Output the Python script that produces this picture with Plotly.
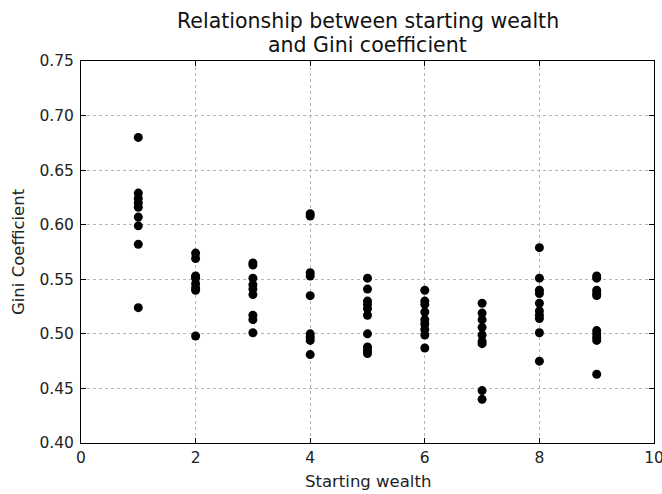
import plotly.graph_objects as go

starting_wealth = [1, 2, 3, 4, 5, 6, 7, 8, 9]
gini_1 = [0.680, 0.629, 0.624, 0.620, 0.616, 0.607, 0.599, 0.582, 0.524]
gini_2 = [0.574, 0.569, 0.553, 0.551, 0.546, 0.542, 0.540, 0.498]
gini_3 = [0.565, 0.563, 0.551, 0.545, 0.541, 0.536, 0.517, 0.513, 0.501]
gini_4 = [0.610, 0.608, 0.556, 0.553, 0.535, 0.500, 0.497, 0.494, 0.481]
gini_5 = [0.551, 0.541, 0.530, 0.527, 0.523, 0.517, 0.500, 0.488, 0.485, 0.482]
gini_6 = [0.540, 0.530, 0.527, 0.520, 0.513, 0.509, 0.504, 0.499, 0.487]
gini_7 = [0.528, 0.519, 0.513, 0.506, 0.499, 0.493, 0.491, 0.448, 0.440]
gini_8 = [0.579, 0.551, 0.540, 0.537, 0.528, 0.521, 0.517, 0.514, 0.501, 0.475]
gini_9 = [0.553, 0.551, 0.540, 0.537, 0.535, 0.503, 0.500, 0.497, 0.494, 0.463]
gini_groups = [gini_1, gini_2, gini_3, gini_4, gini_5, gini_6, gini_7, gini_8, gini_9]

title_lines = ["Relationship between starting wealth", "and Gini coefficient"]
x_ticks = [0, 2, 4, 6, 8, 10]
y_ticks = [0.40, 0.45, 0.50, 0.55, 0.60, 0.65, 0.70, 0.75]

xs, ys = [], []
for w, g in zip(starting_wealth, gini_groups):
    xs += [w] * len(g)
    ys += g

fig = go.Figure(go.Scatter(
    x=xs, y=ys, mode="markers",
    marker=dict(color="black", size=9, line=dict(width=0)),
    showlegend=False,
))

font = "DejaVu Sans, sans-serif"
axis_common = dict(
    showline=True, linecolor="black", linewidth=1, mirror="allticks",
    ticks="inside", ticklen=5, tickcolor="black", tickwidth=1,
    showgrid=True, gridcolor="#b5b5b5", gridwidth=1, griddash="3px,3px",
    zeroline=False, automargin=False, ticklabeloverflow="allow",
    tickfont=dict(family=font, size=15.5, color="#222"),
)

fig.update_layout(
    width=662, height=494,
    margin=dict(l=81, r=8, t=61, b=51),
    paper_bgcolor="white", plot_bgcolor="white",
    hovermode=False,
    xaxis=dict(
        range=[0, 10], tickvals=x_ticks, ticktext=[str(v) for v in x_ticks],
        **axis_common,
    ),
    yaxis=dict(
        range=[0.40, 0.75], tickvals=y_ticks, ticktext=[f"{v:.2f}" for v in y_ticks],
        ticklabelstandoff=3,
        **axis_common,
    ),
    annotations=[
        dict(text=title_lines[0], xref="paper", yref="paper", x=0.5, y=1,
             xanchor="center", yanchor="middle", yshift=40, showarrow=False,
             font=dict(family=font, size=20.5, color="#111")),
        dict(text=title_lines[1], xref="paper", yref="paper", x=0.5, y=1,
             xanchor="center", yanchor="middle", yshift=16, showarrow=False,
             font=dict(family=font, size=20.5, color="#111")),
        dict(text="Starting wealth", xref="paper", yref="paper", x=0.5, y=0,
             xanchor="center", yanchor="middle", yshift=-38, showarrow=False,
             font=dict(family=font, size=16.5, color="#222")),
        dict(text="Gini Coefficient", xref="paper", yref="paper", x=0, y=0.5,
             xanchor="center", yanchor="middle", xshift=-63, textangle=-90, showarrow=False,
             font=dict(family=font, size=16.5, color="#222")),
    ],
)

# remove the default page margin so the figure fills the 662x494 window exactly
fig.write_html(
    "out.html",
    config={"displayModeBar": False},
    post_script="document.body.style.margin='0';document.body.style.overflow='hidden';",
)
